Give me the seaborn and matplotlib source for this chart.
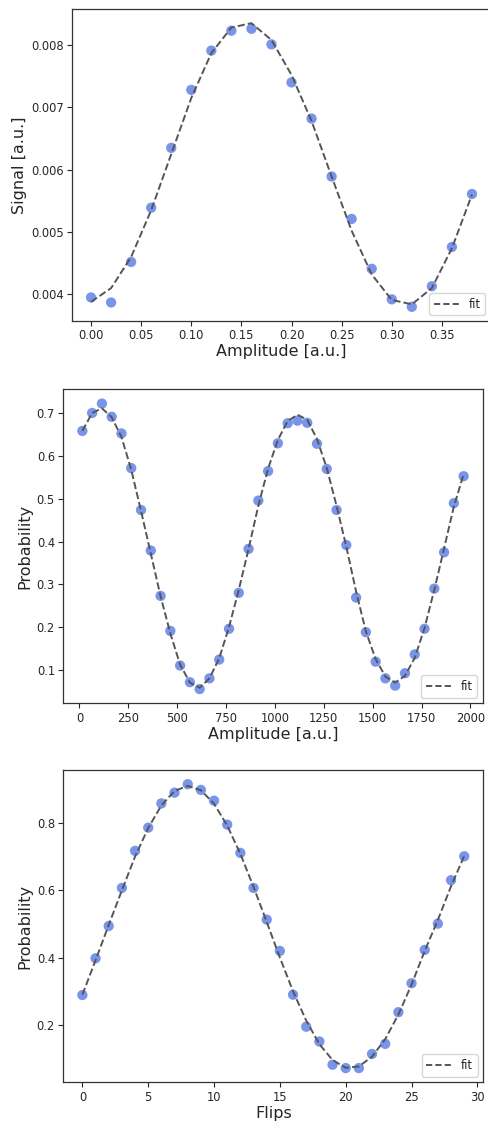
import numpy as np
import pandas as pd
import matplotlib
matplotlib.use("Agg")
import matplotlib.pyplot as plt
import seaborn as sns

# Panel 1: amplitude sweep (signal)
amp1 = [0.00, 0.02, 0.04, 0.06, 0.08, 0.10, 0.12, 0.14, 0.16, 0.18,
        0.20, 0.22, 0.24, 0.26, 0.28, 0.30, 0.32, 0.34, 0.36, 0.38]
signal1 = [0.00395, 0.00387, 0.00452, 0.00539, 0.00635, 0.00728, 0.00791, 0.00823, 0.00826, 0.00801,
           0.00740, 0.00682, 0.00589, 0.00521, 0.00441, 0.00392, 0.00380, 0.00413, 0.00476, 0.00561]
fit1 = [0.00388, 0.00410, 0.00460, 0.00535, 0.00625, 0.00715, 0.00787, 0.00828, 0.00835, 0.00808,
        0.00752, 0.00678, 0.00589, 0.00502, 0.00432, 0.00391, 0.00384, 0.00410, 0.00474, 0.00560]

# Panel 2: amplitude sweep (probability)
amp2 = list(range(15, 2000, 50))
prob2 = [0.659, 0.701, 0.723, 0.692, 0.653, 0.572, 0.474, 0.379, 0.273, 0.191,
         0.110, 0.071, 0.055, 0.080, 0.124, 0.196, 0.280, 0.383, 0.496, 0.565,
         0.630, 0.677, 0.683, 0.678, 0.629, 0.570, 0.474, 0.392, 0.269, 0.188,
         0.119, 0.080, 0.063, 0.092, 0.136, 0.196, 0.290, 0.375, 0.490, 0.553]
fit2 = [0.659, 0.701, 0.712, 0.691, 0.645, 0.568, 0.472, 0.372, 0.272, 0.185,
        0.112, 0.070, 0.058, 0.080, 0.127, 0.200, 0.287, 0.383, 0.484, 0.571,
        0.638, 0.682, 0.697, 0.685, 0.640, 0.572, 0.484, 0.388, 0.283, 0.190,
        0.125, 0.084, 0.070, 0.086, 0.128, 0.198, 0.287, 0.384, 0.482, 0.558]

# Panel 3: flips
flips3 = list(range(30))
prob3 = [0.289, 0.398, 0.494, 0.607, 0.717, 0.786, 0.858, 0.890, 0.915, 0.898,
         0.866, 0.795, 0.711, 0.607, 0.513, 0.420, 0.290, 0.195, 0.151, 0.082,
         0.072, 0.072, 0.114, 0.144, 0.238, 0.324, 0.423, 0.501, 0.630, 0.701]
fit3 = [0.290, 0.392, 0.497, 0.600, 0.700, 0.785, 0.852, 0.895, 0.910, 0.897,
        0.857, 0.792, 0.708, 0.610, 0.506, 0.400, 0.300, 0.213, 0.143, 0.096,
        0.073, 0.077, 0.106, 0.158, 0.231, 0.320, 0.420, 0.512, 0.612, 0.702]

sns.set_style("white")
plt.rcParams['font.family'] = ['DejaVu Sans']

W, H = 489, 1123
fig = plt.figure(figsize=(W / 100, H / 100), dpi=100)

def box(l, t, r, b):
    return [l / W, 1 - b / H, (r - l) / W, (b - t) / H]

panels = [
    (amp1, signal1, fit1, "Amplitude [a.u.]", "Signal [a.u.]", box(72, 9, 491, 321)),
    (amp2, prob2, fit2, "Amplitude [a.u.]", "Probability", box(63.3, 389.3, 482.7, 703.3)),
    (flips3, prob3, fit3, "Flips", "Probability", box(63.3, 770, 483.3, 1082.3)),
]

dot_color = "royalblue"
for x, y, f, xl, yl, pos in panels:
    ax = fig.add_axes(pos)
    df = pd.DataFrame({"x": x, "y": y, "fit": f})
    sns.scatterplot(data=df, x="x", y="y", ax=ax, color=dot_color, alpha=0.7,
                    s=55, edgecolor="none", zorder=2)
    sns.lineplot(data=df, x="x", y="fit", ax=ax, color="#555555", linestyle="--",
                 linewidth=1.4, label="fit", zorder=3)
    ax.set_xlabel(xl, fontsize=11.5, labelpad=1.5)
    ax.set_ylabel(yl, fontsize=11.5, labelpad=3)
    ax.tick_params(axis="both", labelsize=8.3, length=3.5, width=0.8, pad=2.5,
                   left=True, bottom=True)
    for sp in ax.spines.values():
        sp.set_color("#333333")
        sp.set_linewidth(0.9)
    leg = ax.legend(loc="lower right", fontsize=8.3, frameon=True, handlelength=2.2)
    leg.get_lines()[0].set_linestyle((0, (3.2, 1.6)))

fig.savefig("out.png", dpi=100)
